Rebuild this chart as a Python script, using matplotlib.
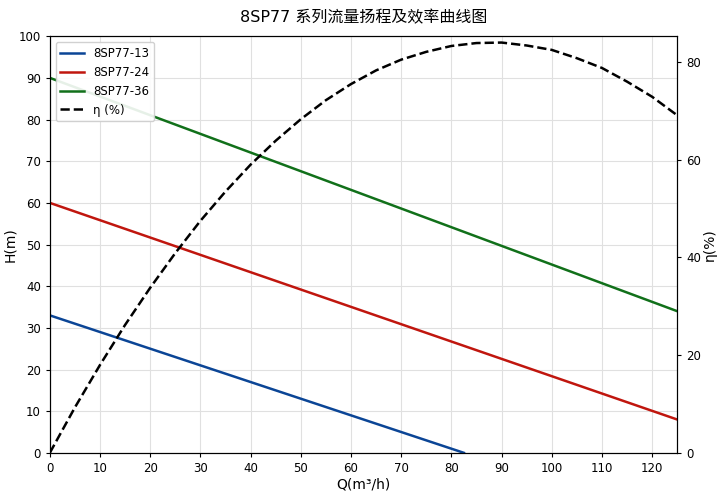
import numpy as np
import matplotlib.pyplot as plt

plt.rcParams['font.family'] = ['DejaVu Sans', 'Noto Sans CJK SC']

# flow points (m3/h)
q_13 = [0, 82.5]
h_13 = [33, 0]
q_24 = [0, 125]
h_24 = [60, 8]
q_36 = [0, 125]
h_36 = [90, 34]

# efficiency curve
q_eta = [0, 5, 10, 15, 20, 25, 30, 35, 40, 45, 50, 55, 60, 65, 70, 75,
         80, 85, 90, 95, 100, 105, 110, 115, 120, 125]
eta = [0, 9.3, 18.0, 26.2, 33.8, 40.9, 47.5, 53.5, 59.0, 63.9, 68.3, 72.2,
       75.5, 78.3, 80.5, 82.1, 83.3, 83.9, 84.0, 83.4, 82.5, 80.8, 78.8,
       76.0, 72.9, 69.1]

fig, ax = plt.subplots(figsize=(7.22, 4.96), dpi=100)
ax2 = ax.twinx()

l1, = ax.plot(q_13, h_13, color='#0b4596', lw=1.8, label='8SP77-13')
l2, = ax.plot(q_24, h_24, color='#c0160e', lw=1.8, label='8SP77-24')
l3, = ax.plot(q_36, h_36, color='#11701a', lw=1.8, label='8SP77-36')
l4, = ax2.plot(q_eta, eta, color='black', lw=1.8, ls='--', label='η (%)')

ax.set_xlim(0, 125)
ax.set_ylim(0, 100)
ax2.set_ylim(0, 85.3)
ax.set_xticks(np.arange(0, 121, 10))
ax.set_yticks(np.arange(0, 101, 10))
ax2.set_yticks([0, 20, 40, 60, 80])
ax.grid(True, color='#e0e0e0', lw=0.8)
ax.set_axisbelow(True)

ax.tick_params(labelsize=8.5, length=3)
ax2.tick_params(labelsize=8.5, length=3)
ax.set_xlabel('Q(m³/h)', fontsize=10, labelpad=2)
ax.set_ylabel('H(m)', fontsize=10, labelpad=1)
ax2.set_ylabel('η(%)', fontsize=10, labelpad=1)
ax.set_title('8SP77 系列流量扬程及效率曲线图', fontsize=11.5, pad=10)

ax.legend(handles=[l1, l2, l3, l4], loc='upper left', fontsize=8.5,
          framealpha=0.9)

fig.subplots_adjust(left=0.069, right=0.938, top=0.927, bottom=0.087)
fig.savefig('out.png', dpi=100)
